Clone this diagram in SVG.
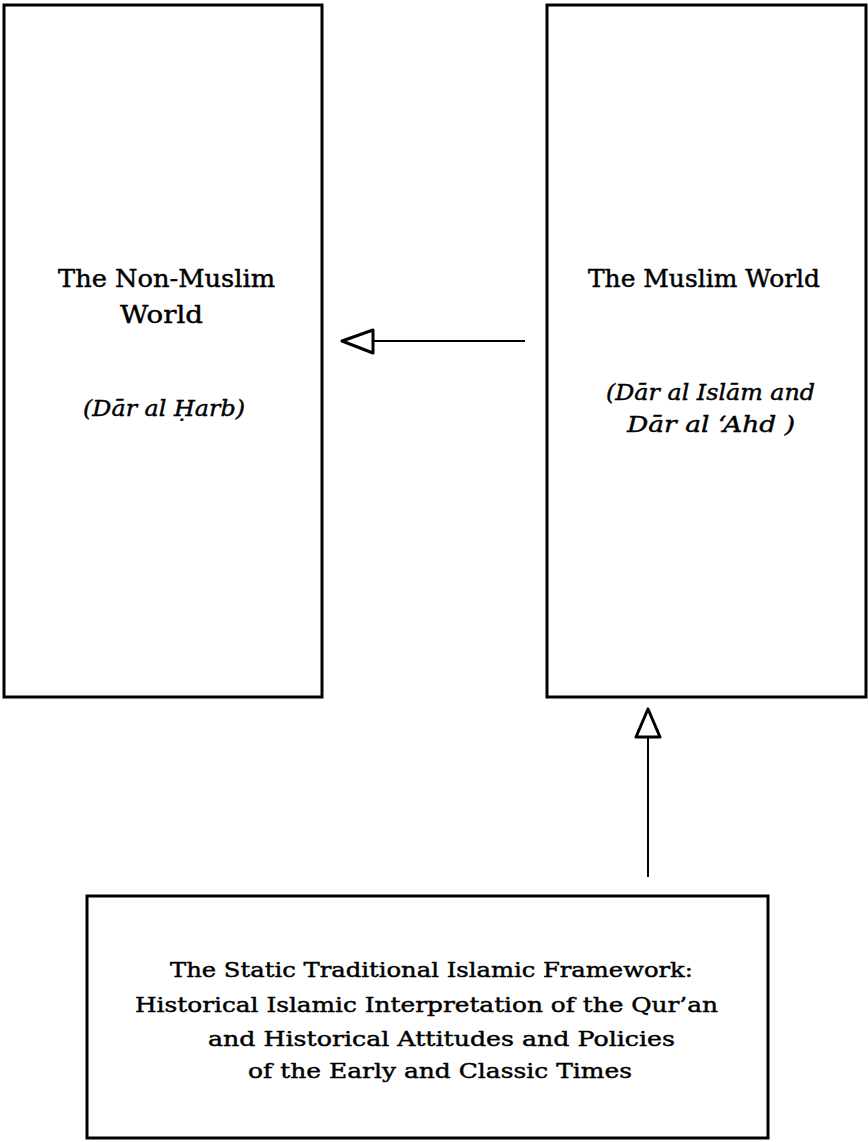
<svg xmlns="http://www.w3.org/2000/svg" width="868" height="1142" viewBox="0 0 868 1142">
<style>
.box{fill:#fff;stroke:#000;stroke-width:3}
.t{font-family:"DejaVu Serif","Liberation Serif",serif;fill:#000;stroke:#000;stroke-width:0.45}
.n{font-size:24px}
.i{font-size:23px;font-style:italic}
.b{font-size:21px}
.line{stroke:#000;stroke-width:2;fill:none}
.head{fill:#fff;stroke:#000;stroke-width:3;stroke-linejoin:round}
</style>
<rect width="868" height="1142" fill="#fff"/>
<g id="nonmuslim">
<rect class="box" x="4" y="5" width="318" height="692"/>
<text class="t n" x="58" y="287" textLength="217" lengthAdjust="spacingAndGlyphs">The Non-Muslim</text>
<text class="t n" x="120" y="323" textLength="83" lengthAdjust="spacingAndGlyphs">World</text>
<text class="t i" x="83" y="416" textLength="162" lengthAdjust="spacingAndGlyphs">(Dār al Ḥarb)</text>
</g>
<g id="muslim">
<rect class="box" x="547" y="5" width="319" height="692"/>
<text class="t n" x="588" y="287" textLength="232" lengthAdjust="spacingAndGlyphs">The Muslim World</text>
<text class="t i" x="606" y="400" textLength="209" lengthAdjust="spacingAndGlyphs">(Dār al Islām and</text>
<text class="t i" x="627" y="432" textLength="168" lengthAdjust="spacingAndGlyphs">Dār al ‘Ahd )</text>
</g>
<g id="framework">
<rect class="box" x="87" y="896" width="681" height="242"/>
<text class="t b" x="170" y="977" textLength="523" lengthAdjust="spacingAndGlyphs">The Static Traditional Islamic Framework:</text>
<text class="t b" x="135" y="1012" textLength="583" lengthAdjust="spacingAndGlyphs">Historical Islamic Interpretation of the Qur’an</text>
<text class="t b" x="208" y="1046" textLength="467" lengthAdjust="spacingAndGlyphs">and Historical Attitudes and Policies</text>
<text class="t b" x="248" y="1078" textLength="384" lengthAdjust="spacingAndGlyphs">of the Early and Classic Times</text>
</g>
<g id="connectors">
<line class="line" x1="525" y1="341" x2="373" y2="341"/>
<polygon class="head" points="342,341 373,330 373,353"/>
<line class="line" x1="648" y1="877" x2="648" y2="737"/>
<polygon class="head" points="648,709 636,737 660,737"/>
</g>
</svg>
